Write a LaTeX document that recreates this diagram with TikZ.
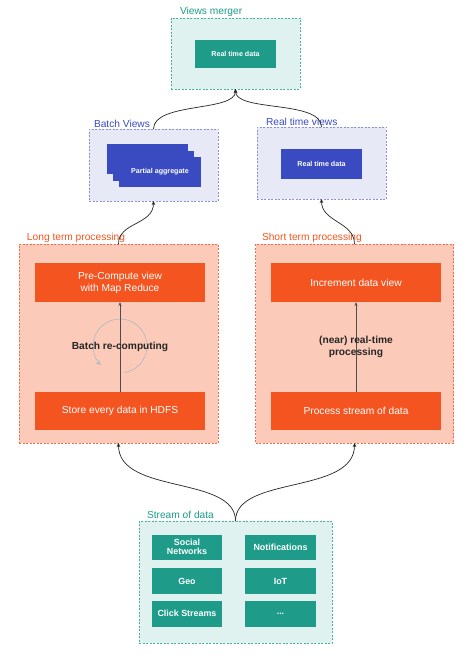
\documentclass[tikz,border=0pt]{standalone}
\usepackage{fontspec}
\setmainfont{Liberation Sans}
\usetikzlibrary{arrows.meta}
\definecolor{tealbox}{HTML}{1E9C89}
\definecolor{tealfill}{HTML}{E0F2EF}
\definecolor{tealline}{HTML}{45B3A3}
\definecolor{bluebox}{HTML}{3A4BC2}
\definecolor{bluefill}{HTML}{E8E9F6}
\definecolor{blueline}{HTML}{8C90D4}
\definecolor{orgbox}{HTML}{F4541F}
\definecolor{orgfill}{HTML}{FCCAB8}
\definecolor{orgline}{HTML}{F26B4A}
\definecolor{loopc}{HTML}{AEB8C6}
\tikzset{
  every node/.style={inner sep=0pt, outer sep=0pt},
  cont/.style={dash pattern=on 2pt off 1.5pt, line width=0.7pt},
  tcont/.style={cont, draw=tealline, fill=tealfill},
  bcont/.style={cont, draw=blueline, fill=bluefill},
  ocont/.style={cont, draw=orgline, fill=orgfill},
  clabel/.style={anchor=south west, font=\fontsize{10.2}{12}\selectfont},
  tbox/.style={fill=tealbox, text=white, font=\bfseries\fontsize{8.9}{9.4}\selectfont, align=center},
  sbox/.style={fill=tealbox, text=white, font=\bfseries\fontsize{7.1}{8.3}\selectfont},
  bbox/.style={fill=bluebox, text=white, font=\bfseries\fontsize{7.1}{8.3}\selectfont},
  obox/.style={fill=orgbox, text=white, font=\fontsize{10.2}{12}\selectfont, align=center},
  curv/.style={line width=0.7pt, black!85, -{Stealth[length=4pt,width=3.5pt]}},
  straight/.style={line width=0.6pt, black!70, -{Stealth[length=4pt,width=3pt]}},
  midlabel/.style={font=\bfseries\fontsize{10.2}{12}\selectfont, align=center, text=black!85}
}
\begin{document}
\begin{tikzpicture}[x=1pt,y=-1pt]
\useasboundingbox (0,0) rectangle (470,658);
\fill[white] (0,0) rectangle (470,658);

% Views merger
\node[tcont, minimum width=129pt, minimum height=71pt] (merger) at (235.5,53.5) {};
\node[clabel, text=tealbox] (mergerlbl) at (180,17) {Views merger};
\node[sbox, minimum width=81pt, minimum height=28pt] (mergerin) at (235.5,54) {Real time data};

% Batch views
\node[bcont, minimum width=129pt, minimum height=72pt] (batch) at (153.5,165) {};
\node[clabel, text=bluebox] (batchlbl) at (94,128) {Batch Views};
\node[bbox, minimum width=81pt, minimum height=30pt] (pa3) at (147,159) {};
\node[bbox, minimum width=81pt, minimum height=30pt] (pa2) at (153.5,165.5) {};
\node[bbox, minimum width=82pt, minimum height=30pt] (pa1) at (160,172) {Partial aggregate};

% Real time views
\node[bcont, minimum width=129pt, minimum height=72pt] (rtv) at (321.5,163) {};
\node[clabel, text=bluebox] (rtvlbl) at (266,126) {Real time views};
\node[bbox, minimum width=81pt, minimum height=30pt] (rtvin) at (321.5,164) {Real time data};

% Long term processing
\node[ocont, minimum width=199pt, minimum height=199pt] (long) at (118.5,343.5) {};
\node[clabel, text=orgbox] (longlbl) at (27,243) {Long term processing};
\node[obox, minimum width=170pt, minimum height=39pt] (precomp) at (120,282.5) {Pre-Compute view\\with Map Reduce};
\node[obox, minimum width=170pt, minimum height=38pt] (store) at (120,411) {Store every data in HDFS};
\draw[line width=0.6pt, loopc, -{Stealth[length=5pt,width=5pt,open]}] (120,346) ++(-80:27pt) arc[start angle=-80, end angle=225, radius=27pt];
\draw[straight] (store) -- (precomp);
\node[midlabel] (batchrc) at (120,347) {Batch re-computing};

% Short term processing
\node[ocont, minimum width=198pt, minimum height=199pt] (short) at (354.5,343.5) {};
\node[clabel, text=orgbox] (shortlbl) at (262,243) {Short term processing};
\node[obox, minimum width=170pt, minimum height=39pt] (incr) at (356,282.5) {Increment data view};
\node[obox, minimum width=170pt, minimum height=38pt] (procs) at (356,411) {Process stream of data};
\draw[straight] (procs) -- (incr);
\node[midlabel] (nrt) at (356,347) {(near) real-time\\processing};

% Stream of data
\node[tcont, minimum width=193pt, minimum height=122pt] (stream) at (235.5,582) {};
\node[clabel, text=tealbox] (streamlbl) at (147,519) {Stream of data};
\node[tbox, minimum width=70pt, minimum height=25pt] (social) at (187,547) {Social\\Networks};
\node[tbox, minimum width=71pt, minimum height=25pt] (notif) at (280.5,547) {Notifications};
\node[tbox, minimum width=70pt, minimum height=26pt] (geo) at (187,581) {Geo};
\node[tbox, minimum width=71pt, minimum height=26pt] (iot) at (280.5,581) {IoT};
\node[tbox, minimum width=70pt, minimum height=26pt] (click) at (187,613.5) {Click Streams};
\node[tbox, minimum width=71pt, minimum height=26pt] (more) at (280.5,613.5) {...};

% Connectors
\draw[curv] (stream.north) .. controls (235.5,475) and (118.5,495) .. (long.south);
\draw[curv] (stream.north) .. controls (235.5,475) and (354.5,495) .. (short.south);
\draw[curv] (long.north) .. controls (118.5,222) and (153.5,225) .. (batch.south);
\draw[curv] (short.north) .. controls (354.5,222) and (321.5,222) .. (rtv.south);
\draw[curv] (batch.north) .. controls (153.5,102) and (235.5,112) .. (merger.south);
\draw[curv] (rtv.north) .. controls (321.5,100) and (235.5,112) .. (merger.south);
\end{tikzpicture}
\end{document}
